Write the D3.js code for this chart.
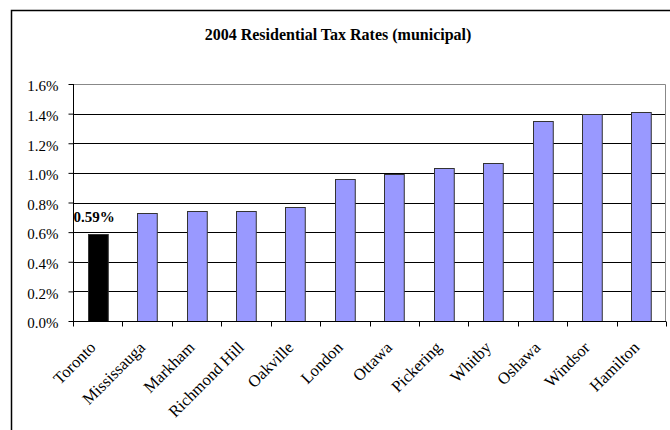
<!DOCTYPE html>
<html>
<head>
<meta charset="utf-8">
<script src="https://cdn.jsdelivr.net/npm/d3@7"></script>
<style>
  body { margin: 0; background: #fff; }
  svg { display: block; }
</style>
</head>
<body>
<svg class="chart"></svg>
<script>
// city names and 2004 municipal residential tax rates (%)
var cities = ["Toronto", "Mississauga", "Markham", "Richmond Hill", "Oakville", "London",
	"Ottawa", "Pickering", "Whitby", "Oshawa", "Windsor", "Hamilton"];
var rates = [0.59, 0.73, 0.74, 0.74, 0.77, 0.96, 0.99, 1.03, 1.07, 1.35, 1.40, 1.41];
var yTicks = [0, 0.2, 0.4, 0.6, 0.8, 1.0, 1.2, 1.4, 1.6];
var highlight = "Toronto";

var W = 670, H = 430;
var margin = {top: 84, right: 4, bottom: 109, left: 73},
	width = W - margin.left - margin.right,
	height = H - margin.top - margin.bottom;

var serif = "'Liberation Serif', 'Times New Roman', serif";

var svg = d3.select(".chart")
	.attr("width", W)
	.attr("height", H);

// outer chart frame
svg.append("rect")
	.attr("x", 11.5)
	.attr("y", 10.5)
	.attr("width", W)
	.attr("height", H)
	.attr("fill", "#fff")
	.attr("stroke", "#000")
	.attr("stroke-width", 1.5);

svg.append("text")
	.attr("x", 338)
	.attr("y", 40)
	.attr("text-anchor", "middle")
	.style("font-family", serif)
	.style("font-weight", "bold")
	.style("font-size", "16px")
	.text("2004 Residential Tax Rates (municipal)");

var g = svg.append("g")
	.attr("transform", "translate(" + margin.left + "," + margin.top + ")");

var x = d3.scaleBand().domain(cities).range([0, width]);
var y = d3.scaleLinear().domain([0, 1.6]).range([height, 0]);

// gridlines
g.selectAll(".grid")
	.data(yTicks.slice(1, -1))
  .enter().append("line")
	.attr("x1", 0)
	.attr("x2", width)
	.attr("y1", function(d) { return Math.round(y(d)) + 0.5; })
	.attr("y2", function(d) { return Math.round(y(d)) + 0.5; })
	.attr("stroke", "#000")
	.attr("stroke-width", 1);

// plot area border (top, right)
g.append("path")
	.attr("d", "M0,0.5H" + (width - 0.5) + "V" + height)
	.attr("fill", "none")
	.attr("stroke", "#888")
	.attr("stroke-width", 1);

var barW = x.bandwidth() / 2.5;
g.selectAll(".bar")
	.data(rates)
  .enter().append("rect")
	.attr("x", function(d, i) { return Math.round(x(cities[i]) + (x.bandwidth() - barW) / 2) + 0.5; })
	.attr("y", function(d) { return Math.round(y(d)) + 0.5; })
	.attr("width", barW)
	.attr("height", function(d) { return height - Math.round(y(d)); })
	.attr("fill", function(d, i) { return cities[i] == highlight ? "#000" : "#9999ff"; })
	.attr("stroke", "#333")
	.attr("stroke-width", 1);

// value label for Toronto
var hi = cities.indexOf(highlight);
g.append("text")
	.attr("x", x(highlight) + 0.5)
	.attr("y", y(rates[hi]) - 12)
	.style("font-family", serif)
	.style("font-weight", "bold")
	.style("font-size", "15px")
	.text(d3.format(".2f")(rates[hi]) + "%");

// y axis
var yAxis = g.append("g")
	.attr("transform", "translate(0.5,0)")
	.call(d3.axisLeft(y)
		.tickValues(yTicks)
		.tickSize(5)
		.tickPadding(10)
		.tickFormat(function(d) { return d.toFixed(1) + "%"; }));
yAxis.selectAll("text")
	.attr("dy", "0.45em")
	.style("font-family", serif)
	.style("font-size", "15px")
	.attr("fill", "#000");
yAxis.select(".domain").attr("d", "M0,0V" + height);

// x axis with ticks between categories
var xAxis = g.append("g")
	.attr("transform", "translate(0," + (height + 0.5) + ")");
xAxis.append("line")
	.attr("x1", 0).attr("x2", width)
	.attr("stroke", "#000");
xAxis.selectAll(".tick")
	.data(d3.range(cities.length + 1))
  .enter().append("line")
	.attr("x1", function(i) { return Math.round(i * x.step()) + 0.5; })
	.attr("x2", function(i) { return Math.round(i * x.step()) + 0.5; })
	.attr("y1", 0).attr("y2", 5)
	.attr("stroke", "#000");
xAxis.selectAll(".lab")
	.data(cities)
  .enter().append("text")
	.attr("text-anchor", "end")
	.attr("transform", function(d) {
		return "translate(" + (x(d) + x.bandwidth() / 2 - 1) + ",27) rotate(-45)";
	})
	.style("font-family", serif)
	.style("font-size", "16.5px")
	.text(function(d) { return d; });
</script>
</body>
</html>
